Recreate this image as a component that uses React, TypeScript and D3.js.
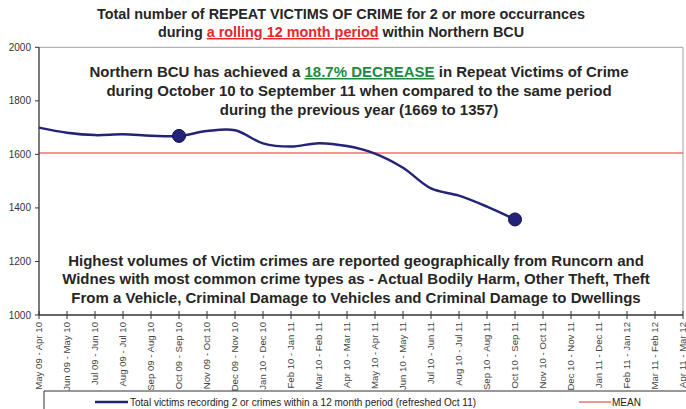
import React from "react";
import * as d3 from "d3";

const categories = [
  "May 09 - Apr 10", "Jun 09 - May 10", "Jul 09 - Jun 10", "Aug 09 - Jul 10",
  "Sep 09 - Aug 10", "Oct 09 - Sep 10", "Nov 09 - Oct 10", "Dec 09 - Nov 10",
  "Jan 10 - Dec 10", "Feb 10 - Jan 11", "Mar 10 - Feb 11", "Apr 10 - Mar 11",
  "May 10 - Apr 11", "Jun 10 - May 11", "Jul 10 - Jun 11", "Aug 10 - Jul 11",
  "Sep 10 - Aug 11", "Oct 10 - Sep 11", "Nov 10 - Oct 11", "Dec 10 - Nov 11",
  "Jan 11 - Dec 11", "Feb 11 - Jan 12", "Mar 11 - Feb 12", "Apr 11 - Mar 12",
];
const victims = [1700, 1681, 1672, 1675, 1670, 1669, 1687, 1690, 1641, 1629, 1642, 1631, 1603, 1550, 1473, 1446, 1405, 1357];
const meanValue = 1605;
const highlighted = [5, 17];
const yTicks = [1000, 1200, 1400, 1600, 1800, 2000];

const W = 686, H = 409;
const plot = { left: 39, right: 683, top: 47.3, bottom: 315 };
const FONT = "'Liberation Sans', Arial, sans-serif";

export default function App() {
  const x = d3.scalePoint<string>().domain(categories).range([plot.left, plot.right]);
  const y = d3.scaleLinear().domain([1000, 2000]).range([plot.bottom, plot.top]);
  const line = d3.line<number>()
    .x((_, i) => x(categories[i])!)
    .y((d) => y(d))
    .curve(d3.curveCatmullRom.alpha(0.5));

  const navy = "#23237a";
  const red = "#e5262b";
  const green = "#1f8a3e";
  const textCol = "#262626";

  return (
    <svg width={W} height={H} style={{ position: "absolute", left: 0, top: 0, background: "#fff" }} fontFamily={FONT}>
      {/* title */}
      <text x={341} y={19} textAnchor="middle" fontSize={14.4} fontWeight="bold" fill={textCol}>
        Total number of REPEAT VICTIMS OF CRIME for 2 or more occurrances
      </text>
      <text x={341} y={37} textAnchor="middle" fontSize={14.4} fontWeight="bold" fill={textCol}>
        during <tspan fill={red} textDecoration="underline">a rolling 12 month period</tspan> within Northern BCU
      </text>

      {/* plot frame */}
      <line x1={plot.left} x2={plot.right} y1={plot.top} y2={plot.top} stroke="#a0a0a0" strokeWidth={1} />
      <line x1={plot.right} x2={plot.right} y1={plot.top} y2={plot.bottom} stroke="#a0a0a0" strokeWidth={1} />

      {/* mean line */}
      <line x1={plot.left} x2={plot.right} y1={y(meanValue)} y2={y(meanValue)} stroke="#f07070" strokeWidth={1.5} />

      {/* y axis */}
      <line x1={plot.left} x2={plot.left} y1={plot.top} y2={plot.bottom} stroke="#333" strokeWidth={1.3} />
      {yTicks.map((t) => (
        <g key={t}>
          <line x1={plot.left - 4} x2={plot.left} y1={y(t)} y2={y(t)} stroke="#333" strokeWidth={1} />
          <text x={plot.left - 8} y={y(t) + 3.5} textAnchor="end" fontSize={10} fill="#333">{t}</text>
        </g>
      ))}

      {/* x axis */}
      <line x1={plot.left} x2={plot.right} y1={plot.bottom} y2={plot.bottom} stroke="#333" strokeWidth={1.3} />
      {categories.map((c) => {
        const px = x(c)!;
        return (
          <g key={c}>
            <line x1={px} x2={px} y1={plot.bottom - 4} y2={plot.bottom + 4} stroke="#333" strokeWidth={1} />
            <text transform={`translate(${px + 3.3},${plot.bottom + 7}) rotate(-90)`} textAnchor="end" fontSize={9.6} fill="#444">{c}</text>
          </g>
        );
      })}

      {/* series */}
      <path d={line(victims) ?? ""} fill="none" stroke={navy} strokeWidth={2.5} />
      {highlighted.map((i) => (
        <circle key={i} cx={x(categories[i])!} cy={y(victims[i])} r={6.5} fill={navy} stroke="#111150" strokeWidth={1} />
      ))}

      {/* annotation 1 */}
      <g fontSize={15} fontWeight="bold" fill={textCol} textAnchor="middle">
        <text x={359} y={77}>
          Northern BCU has achieved a <tspan fill={green} textDecoration="underline">18.7% DECREASE</tspan> in Repeat Victims of Crime
        </text>
        <text x={359} y={96}>during October 10 to September 11 when compared to the same period</text>
        <text x={359} y={115}>during the previous year (1669 to 1357)</text>
      </g>

      {/* annotation 2 */}
      <g fontSize={15} fontWeight="bold" fill={textCol} textAnchor="middle">
        <text x={356} y={266}>Highest volumes of Victim crimes are reported geographically from Runcorn and</text>
        <text x={356} y={284}>Widnes with most common crime types as - Actual Bodily Harm, Other Theft, Theft</text>
        <text x={356} y={303}>From a Vehicle, Criminal Damage to Vehicles and Criminal Damage to Dwellings</text>
      </g>

      {/* legend */}
      <line x1={44} x2={W} y1={391} y2={391} stroke="#333" strokeWidth={1} />
      <line x1={44} x2={44} y1={391} y2={H} stroke="#333" strokeWidth={1} />
      <line x1={95} x2={128} y1={402} y2={402} stroke={navy} strokeWidth={2.5} />
      <text x={130} y={405.5} fontSize={10} fill="#222">Total victims recording 2 or crimes within a 12 month period (refreshed Oct 11)</text>
      <line x1={579} x2={611} y1={402} y2={402} stroke="#f07070" strokeWidth={1.5} />
      <text x={612} y={405.5} fontSize={10} fill="#222">MEAN</text>
    </svg>
  );
}
